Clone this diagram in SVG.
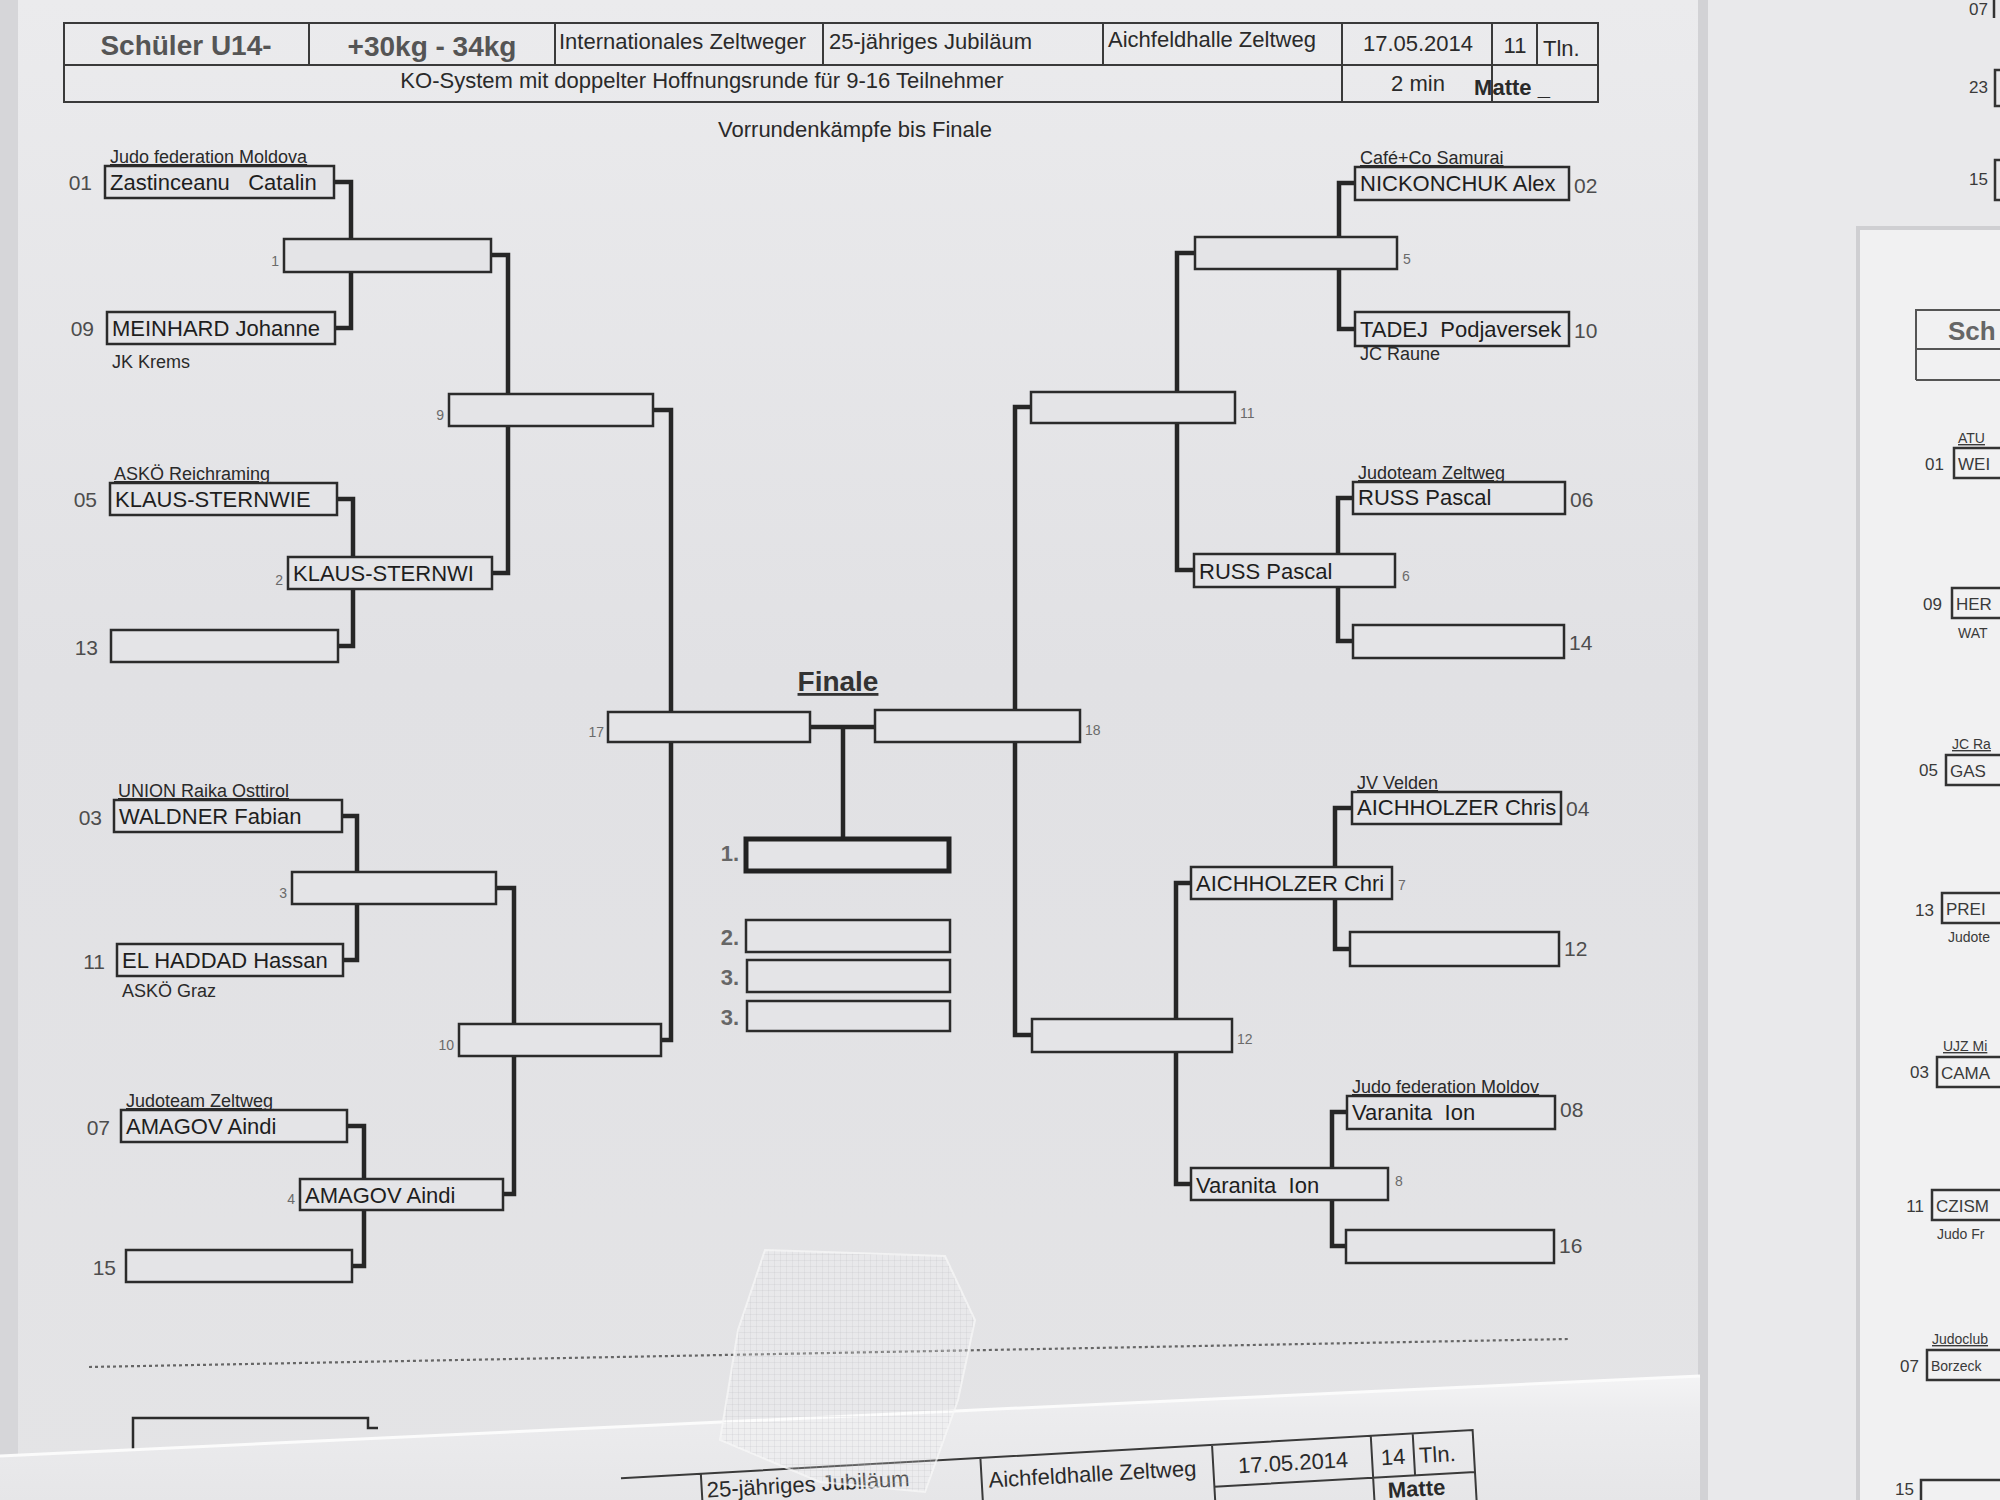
<svg xmlns="http://www.w3.org/2000/svg" width="2000" height="1500" viewBox="0 0 2000 1500">
<defs>
<linearGradient id="paper" x1="0" y1="0" x2="0" y2="1">
<stop offset="0" stop-color="#ebebed"/>
<stop offset="0.45" stop-color="#e1e1e4"/>
<stop offset="1" stop-color="#e4e4e6"/>
</linearGradient>
<linearGradient id="lower" x1="0" y1="0" x2="0" y2="1">
<stop offset="0" stop-color="#f4f4f5"/>
<stop offset="0.3" stop-color="#ececee"/>
<stop offset="1" stop-color="#e6e6e8"/>
</linearGradient>
<pattern id="tapegrid" width="6" height="6" patternUnits="userSpaceOnUse">
<rect width="6" height="6" fill="#ffffff" fill-opacity="0.18"/>
<path d="M0 0H6M0 0V6" stroke="#b8b8bc" stroke-width="0.8" stroke-opacity="0.5"/>
</pattern>
<style>
text{font-family:"Liberation Sans",Arial,sans-serif}
.box{fill:#e4e4e7;stroke:#2b2b2b;stroke-width:2.5}
.win{fill:#e4e4e7;stroke:#222;stroke-width:5}
.conn{fill:none;stroke:#262626;stroke-width:4.5}
.name{font-size:22px;fill:#1e1e1e}
.club{font-size:18px;fill:#2a2a2a;text-decoration:underline}
.clubb{font-size:18px;fill:#2a2a2a}
.num{font-size:21px;fill:#4d4d4d}
.rnd{font-size:14px;fill:#6a6a6a}
.hdr{fill:none;stroke:#3a3a3a;stroke-width:2}
.ht{font-size:22px;fill:#2a2a2a}
.hb{font-size:28px;font-weight:bold;fill:#555}
.plc{font-size:22px;font-weight:bold;fill:#666}
.frag{font-size:17px;fill:#3a3a3a}
.fragc{font-size:14px;fill:#3a3a3a}
.rb{fill:none;stroke:#333;stroke-width:2.5}
</style>
</defs>

<!-- background papers -->
<rect x="0" y="0" width="2000" height="1500" fill="url(#paper)"/>
<rect x="0" y="0" width="18" height="1500" fill="#d6d6d9"/>
<rect x="1700" y="0" width="300" height="1500" fill="#e9e9eb"/>
<rect x="1698" y="0" width="10" height="1500" fill="#d2d2d5"/>
<g id="right-sheet-top">
<text class="frag" x="1988" y="15" text-anchor="end" fill="#666">07</text>
<path class="rb" d="M1994 -5V18"/>
<text class="frag" x="1988" y="93" text-anchor="end" fill="#666">23</text>
<path class="rb" d="M2000 70H1995V106H2000"/>
<text class="frag" x="1988" y="185" text-anchor="end" fill="#666">15</text>
<path class="rb" d="M2000 160H1995V200H2000"/>
</g>
<g id="right-sheet">
<rect x="1856" y="226" width="144" height="1274" fill="#cfcfd2"/>
<rect x="1860" y="230" width="140" height="1270" fill="#f1f1f2"/>
<path d="M1916 380V310H2000M1916 349H2000M1916 380H2000" fill="none" stroke="#555" stroke-width="2"/>
<text x="1948" y="340" font-size="26" font-weight="bold" fill="#666">Sch</text>
<text class="frag" x="1944" y="470" text-anchor="end" fill="#666">01</text>
<text class="fragc" x="1958" y="443" text-decoration="underline">ATU</text>
<path class="rb" d="M2000 448H1954V478H2000"/>
<text class="frag" x="1958" y="470">WEI</text>
<text class="frag" x="1942" y="610" text-anchor="end" fill="#666">09</text>
<path class="rb" d="M2000 588H1952V618H2000"/>
<text class="frag" x="1956" y="610">HER</text>
<text class="fragc" x="1958" y="638">WAT</text>
<text class="frag" x="1938" y="776" text-anchor="end" fill="#666">05</text>
<text class="fragc" x="1952" y="749" text-decoration="underline">JC Ra</text>
<path class="rb" d="M2000 755H1946V785H2000"/>
<text class="frag" x="1950" y="777">GAS</text>
<text class="frag" x="1934" y="916" text-anchor="end" fill="#666">13</text>
<path class="rb" d="M2000 893H1942V923H2000"/>
<text class="frag" x="1946" y="915">PREI</text>
<text class="fragc" x="1948" y="942">Judote</text>
<text class="frag" x="1929" y="1078" text-anchor="end" fill="#666">03</text>
<text class="fragc" x="1943" y="1051" text-decoration="underline">UJZ Mi</text>
<path class="rb" d="M2000 1057H1937V1087H2000"/>
<text class="frag" x="1941" y="1079">CAMA</text>
<text class="frag" x="1924" y="1212" text-anchor="end" fill="#666">11</text>
<path class="rb" d="M2000 1190H1932V1220H2000"/>
<text class="frag" x="1936" y="1212">CZISM</text>
<text class="fragc" x="1937" y="1239">Judo Fr</text>
<text class="frag" x="1919" y="1372" text-anchor="end" fill="#666">07</text>
<text class="fragc" x="1932" y="1344" text-decoration="underline">Judoclub</text>
<path class="rb" d="M2000 1350H1927V1380H2000"/>
<text class="fragc" x="1931" y="1371" font-size="15">Borzeck</text>
<text class="frag" x="1914" y="1495" text-anchor="end" fill="#666">15</text>
<path class="rb" d="M2000 1480H1921V1500"/>
</g>

<!-- header table -->
<g id="header">
<rect class="hdr" x="64" y="23" width="1534" height="79"/>
<path class="hdr" d="M64 65H1598M309 23V65M555 23V65M823 23V65M1103 23V65M1342 23V102M1492 23V102M1537 23V65"/>
<text class="hb" x="186" y="55" text-anchor="middle">Schüler U14-</text>
<text class="hb" x="432" y="56" text-anchor="middle">+30kg - 34kg</text>
<text class="ht" x="559" y="49">Internationales Zeltweger</text>
<text class="ht" x="829" y="49">25-jähriges Jubiläum</text>
<text class="ht" x="1108" y="47">Aichfeldhalle Zeltweg</text>
<text class="ht" x="1418" y="51" text-anchor="middle">17.05.2014</text>
<text class="ht" x="1515" y="53" text-anchor="middle">11</text>
<text class="ht" x="1543" y="56">Tln.</text>
<text class="ht" x="702" y="88" text-anchor="middle" fill="#555">KO-System mit doppelter Hoffnungsrunde für 9-16 Teilnehmer</text>
<text class="ht" x="1418" y="91" text-anchor="middle">2 min</text>
<text class="ht" x="1512" y="95" text-anchor="middle" font-weight="bold">Matte _</text>
<text class="ht" x="855" y="137" text-anchor="middle" font-size="21" fill="#555">Vorrundenkämpfe bis Finale</text>
</g>

<!-- connectors -->
<g id="connectors">
<path class="conn" d="M334 182H351V328H335"/>
<path class="conn" d="M337 499H353V646H338"/>
<path class="conn" d="M342 816H357V960H343"/>
<path class="conn" d="M347 1126H364V1266H352"/>
<path class="conn" d="M491 255H508V573H492"/>
<path class="conn" d="M496 888H514V1194H503"/>
<path class="conn" d="M653 410H671V1040H661"/>
<path class="conn" d="M810 727H875M843 727V838"/>
<path class="conn" d="M1031 407H1015V1035H1032"/>
<path class="conn" d="M1195 253H1177V570H1194"/>
<path class="conn" d="M1191 883H1176V1184H1191"/>
<path class="conn" d="M1355 183H1339V329H1355"/>
<path class="conn" d="M1353 498H1338V641H1353"/>
<path class="conn" d="M1352 808H1335V949H1350"/>
<path class="conn" d="M1347 1112H1332V1246H1346"/>
</g>

<!-- left entries -->
<g id="e01"><text class="club" x="110" y="163">Judo federation Moldova</text><text class="num" x="92" y="190" text-anchor="end">01</text><rect class="box" x="105" y="166" width="229" height="32"/><text class="name" x="110" y="190" xml:space="preserve">Zastinceanu   Catalin</text></g>
<g id="e09"><text class="num" x="94" y="336" text-anchor="end">09</text><rect class="box" x="107" y="312" width="228" height="32"/><text class="name" x="112" y="336">MEINHARD Johanne</text><text class="clubb" x="112" y="368">JK Krems</text></g>
<g id="e05"><text class="club" x="114" y="480">ASKÖ Reichraming</text><text class="num" x="97" y="507" text-anchor="end">05</text><rect class="box" x="110" y="483" width="227" height="32"/><text class="name" x="115" y="507">KLAUS-STERNWIE</text></g>
<g id="e13"><text class="num" x="98" y="655" text-anchor="end">13</text><rect class="box" x="111" y="630" width="227" height="32"/></g>
<g id="e03"><text class="club" x="118" y="797">UNION Raika Osttirol</text><text class="num" x="102" y="825" text-anchor="end">03</text><rect class="box" x="114" y="800" width="228" height="32"/><text class="name" x="119" y="824">WALDNER Fabian</text></g>
<g id="e11"><text class="num" x="105" y="969" text-anchor="end">11</text><rect class="box" x="117" y="944" width="226" height="32"/><text class="name" x="122" y="968">EL HADDAD Hassan</text><text class="clubb" x="122" y="997">ASKÖ Graz</text></g>
<g id="e07"><text class="club" x="126" y="1107">Judoteam Zeltweg</text><text class="num" x="110" y="1135" text-anchor="end">07</text><rect class="box" x="121" y="1110" width="226" height="32"/><text class="name" x="126" y="1134">AMAGOV Aindi</text></g>
<g id="e15"><text class="num" x="116" y="1275" text-anchor="end">15</text><rect class="box" x="126" y="1250" width="226" height="32"/></g>

<!-- left rounds -->
<g id="r1"><text class="rnd" x="279" y="266" text-anchor="end">1</text><rect class="box" x="284" y="239" width="207" height="33"/></g>
<g id="r2"><text class="rnd" x="283" y="585" text-anchor="end">2</text><rect class="box" x="288" y="557" width="204" height="32"/><text class="name" x="293" y="581">KLAUS-STERNWI</text></g>
<g id="r3"><text class="rnd" x="287" y="898" text-anchor="end">3</text><rect class="box" x="292" y="872" width="204" height="32"/></g>
<g id="r4"><text class="rnd" x="295" y="1204" text-anchor="end">4</text><rect class="box" x="300" y="1179" width="203" height="31"/><text class="name" x="305" y="1203">AMAGOV Aindi</text></g>
<g id="r9"><text class="rnd" x="444" y="420" text-anchor="end">9</text><rect class="box" x="449" y="394" width="204" height="32"/></g>
<g id="r10"><text class="rnd" x="454" y="1050" text-anchor="end">10</text><rect class="box" x="459" y="1024" width="202" height="32"/></g>
<g id="r17"><text class="rnd" x="604" y="737" text-anchor="end">17</text><rect class="box" x="608" y="712" width="202" height="30"/></g>

<!-- final -->
<g id="finale">
<text x="838" y="691" text-anchor="middle" font-size="28" font-weight="bold" fill="#333" text-decoration="underline">Finale</text>
</g>
<g id="p1"><text class="plc" x="739" y="861" text-anchor="end">1.</text><rect class="win" x="746" y="839" width="203" height="32"/></g>
<g id="p2"><text class="plc" x="739" y="945" text-anchor="end">2.</text><rect class="box" x="746" y="920" width="204" height="32"/></g>
<g id="p3a"><text class="plc" x="739" y="985" text-anchor="end">3.</text><rect class="box" x="747" y="960" width="203" height="32"/></g>
<g id="p3b"><text class="plc" x="739" y="1025" text-anchor="end">3.</text><rect class="box" x="747" y="1001" width="203" height="30"/></g>

<!-- right rounds -->
<g id="r18"><rect class="box" x="875" y="710" width="205" height="32"/><text class="rnd" x="1085" y="735">18</text></g>
<g id="r11"><rect class="box" x="1031" y="392" width="204" height="31"/><text class="rnd" x="1240" y="418">11</text></g>
<g id="r12"><rect class="box" x="1032" y="1019" width="200" height="33"/><text class="rnd" x="1237" y="1044">12</text></g>
<g id="r5"><rect class="box" x="1195" y="237" width="202" height="32"/><text class="rnd" x="1403" y="264">5</text></g>
<g id="r6"><rect class="box" x="1194" y="554" width="201" height="33"/><text class="name" x="1199" y="579">RUSS Pascal</text><text class="rnd" x="1402" y="581">6</text></g>
<g id="r7"><rect class="box" x="1191" y="867" width="201" height="32"/><text class="name" x="1196" y="891">AICHHOLZER Chri</text><text class="rnd" x="1398" y="890">7</text></g>
<g id="r8"><rect class="box" x="1191" y="1168" width="197" height="32"/><text class="name" x="1196" y="1193" xml:space="preserve">Varanita  Ion</text><text class="rnd" x="1395" y="1186">8</text></g>

<!-- right entries -->
<g id="e02"><text class="club" x="1360" y="164">Café+Co Samurai</text><rect class="box" x="1355" y="167" width="214" height="33"/><text class="name" x="1360" y="191">NICKONCHUK Alex</text><text class="num" x="1574" y="193">02</text></g>
<g id="e10"><rect class="box" x="1355" y="312" width="214" height="34"/><text class="name" x="1360" y="337" xml:space="preserve">TADEJ  Podjaversek</text><text class="num" x="1574" y="338">10</text><text class="clubb" x="1360" y="360">JC Raune</text></g>
<g id="e06"><text class="club" x="1358" y="479">Judoteam Zeltweg</text><rect class="box" x="1353" y="482" width="212" height="32"/><text class="name" x="1358" y="505">RUSS Pascal</text><text class="num" x="1570" y="507">06</text></g>
<g id="e14"><rect class="box" x="1353" y="625" width="211" height="33"/><text class="num" x="1569" y="650">14</text></g>
<g id="e04"><text class="club" x="1357" y="789">JV Velden</text><rect class="box" x="1352" y="792" width="209" height="32"/><text class="name" x="1357" y="815">AICHHOLZER Chris</text><text class="num" x="1566" y="816">04</text></g>
<g id="e12"><rect class="box" x="1350" y="932" width="209" height="34"/><text class="num" x="1564" y="956">12</text></g>
<g id="e08"><text class="club" x="1352" y="1093">Judo federation Moldov</text><rect class="box" x="1347" y="1096" width="208" height="33"/><text class="name" x="1352" y="1120" xml:space="preserve">Varanita  Ion</text><text class="num" x="1560" y="1117">08</text></g>
<g id="e16"><rect class="box" x="1346" y="1230" width="208" height="33"/><text class="num" x="1559" y="1253">16</text></g>

<!-- bottom of sheet -->
<g id="bottom">
<path d="M89 1367L1569 1339" stroke="#666" stroke-width="2.2" stroke-dasharray="3 3" fill="none"/>
<path d="M133 1452V1418H368V1428H378" fill="none" stroke="#2b2b2b" stroke-width="2.5"/>
<polygon points="0,1456 1700,1376 1700,1500 0,1500" fill="url(#lower)"/>
<path d="M0 1456L1700 1376" stroke="#fbfbfb" stroke-width="3"/>
<g transform="rotate(-3.25 1226 1444)">
<path d="M620 1444H1473V1560M1473 1486H1212M700 1444V1560M980 1444V1560M1212 1444V1560M1371 1444V1560M1413 1444V1486" fill="none" stroke="#3a3a3a" stroke-width="2"/>
<text class="ht" x="705" y="1468" font-size="19">25-jähriges Jubiläum</text>
<text class="ht" x="987" y="1474" font-size="20">Aichfeldhalle Zeltweg</text>
<text class="ht" x="1292" y="1474" font-size="20" text-anchor="middle">17.05.2014</text>
<text class="ht" x="1392" y="1474" font-size="20" text-anchor="middle">14</text>
<text class="ht" x="1418" y="1474" font-size="20">Tln.</text>
<text class="ht" x="1385" y="1507" font-size="19" font-weight="bold">Matte</text>
</g>
<polygon points="765,1250 945,1256 975,1320 958,1400 925,1492 820,1482 720,1440 738,1330" fill="url(#tapegrid)" stroke="#f8f8f8" stroke-width="2" stroke-opacity="0.7"/>
</g>
</svg>
